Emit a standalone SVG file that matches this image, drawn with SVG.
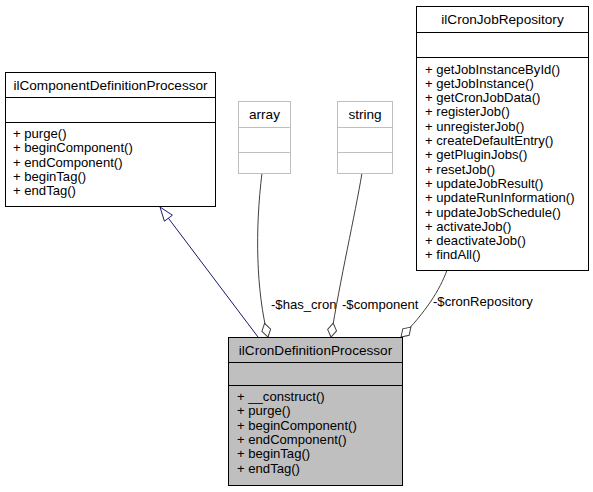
<svg xmlns="http://www.w3.org/2000/svg" width="593" height="492" viewBox="0 0 593 492">
<style>
text{font-family:"Liberation Sans",Arial,Helvetica,sans-serif;font-size:13.1px;fill:#000}
.t{text-anchor:middle;font-size:13.6px}
.box{fill:#fff;stroke:#000;stroke-width:1}
.cur{fill:#bfbfbf;stroke:#000;stroke-width:1}
.lt{fill:#fff;stroke:#bfbfbf;stroke-width:1}
.ln{stroke:#000;stroke-width:1}
.lnl{stroke:#bfbfbf;stroke-width:1}
.edge{fill:none;stroke:#404040;stroke-width:1}
.inh{fill:none;stroke:#191970;stroke-width:1}
</style>
<defs>
<marker id="dia" markerUnits="userSpaceOnUse" markerWidth="18" markerHeight="12" refX="15" refY="5.5" orient="auto" viewBox="0 0 18 11">
<path d="M1,5.5 L8,1 L15,5.5 L8,10 Z" fill="#fff" stroke="#404040" stroke-width="1"/>
</marker>
</defs>
<g id="connectors">
<line class="inh" x1="258" y1="337" x2="168.4" y2="218.2"/>
<polygon points="160,207 164.4,221.2 172.4,215.2" fill="#fff" stroke="#191970" stroke-width="1"/>
<path class="edge" d="M262,173 C255,230 256,290 268,337" marker-end="url(#dia)"/>
<text x="271" y="309">-$has_cron</text>
<path class="edge" d="M362,173 C355,215 340,280 331,337" marker-end="url(#dia)"/>
<text x="342" y="309">-$component</text>
<path class="edge" d="M447,270 C440,290 425,313 401,337" marker-end="url(#dia)"/>
<text x="433" y="306">-$cronRepository</text>
</g>
<g id="ilComponentDefinitionProcessor">
<rect class="box" x="5.5" y="72.5" width="210" height="134"/>
<line class="ln" x1="5.5" y1="97.5" x2="215.5" y2="97.5"/>
<line class="ln" x1="5.5" y1="122.5" x2="215.5" y2="122.5"/>
<text class="t" x="110.5" y="89.5">ilComponentDefinitionProcessor</text>
<text x="13" y="138">+ purge()</text>
<text x="13" y="152.3">+ beginComponent()</text>
<text x="13" y="166.6">+ endComponent()</text>
<text x="13" y="180.9">+ beginTag()</text>
<text x="13" y="195.2">+ endTag()</text>
</g>
<g id="array">
<rect class="lt" x="238.5" y="101.5" width="52" height="72"/>
<line class="lnl" x1="238.5" y1="127.5" x2="290.5" y2="127.5"/>
<line class="lnl" x1="238.5" y1="152.5" x2="290.5" y2="152.5"/>
<text class="t" x="264.5" y="118.5">array</text>
</g>
<g id="string">
<rect class="lt" x="337.5" y="101.5" width="55" height="72"/>
<line class="lnl" x1="337.5" y1="127.5" x2="392.5" y2="127.5"/>
<line class="lnl" x1="337.5" y1="152.5" x2="392.5" y2="152.5"/>
<text class="t" x="365" y="118.5">string</text>
</g>
<g id="ilCronJobRepository">
<rect class="box" x="416.5" y="6.5" width="172" height="264"/>
<line class="ln" x1="416.5" y1="32.5" x2="588.5" y2="32.5"/>
<line class="ln" x1="416.5" y1="57.5" x2="588.5" y2="57.5"/>
<text class="t" x="502.5" y="23.5">ilCronJobRepository</text>
<text x="425" y="73.5">+ getJobInstanceById()</text>
<text x="425" y="87.8">+ getJobInstance()</text>
<text x="425" y="102.1">+ getCronJobData()</text>
<text x="425" y="116.4">+ registerJob()</text>
<text x="425" y="130.7">+ unregisterJob()</text>
<text x="425" y="145">+ createDefaultEntry()</text>
<text x="425" y="159.3">+ getPluginJobs()</text>
<text x="425" y="173.6">+ resetJob()</text>
<text x="425" y="187.9">+ updateJobResult()</text>
<text x="425" y="202.2">+ updateRunInformation()</text>
<text x="425" y="216.5">+ updateJobSchedule()</text>
<text x="425" y="230.8">+ activateJob()</text>
<text x="425" y="245.1">+ deactivateJob()</text>
<text x="425" y="259.4">+ findAll()</text>
</g>
<g id="ilCronDefinitionProcessor">
<rect class="cur" x="228.5" y="337.5" width="174" height="148"/>
<line class="ln" x1="228.5" y1="362.5" x2="402.5" y2="362.5"/>
<line class="ln" x1="228.5" y1="385.5" x2="402.5" y2="385.5"/>
<text class="t" x="315.5" y="354.5">ilCronDefinitionProcessor</text>
<text x="237" y="401">+ __construct()</text>
<text x="237" y="415.3">+ purge()</text>
<text x="237" y="429.6">+ beginComponent()</text>
<text x="237" y="443.9">+ endComponent()</text>
<text x="237" y="458.2">+ beginTag()</text>
<text x="237" y="472.5">+ endTag()</text>
</g>
</svg>
